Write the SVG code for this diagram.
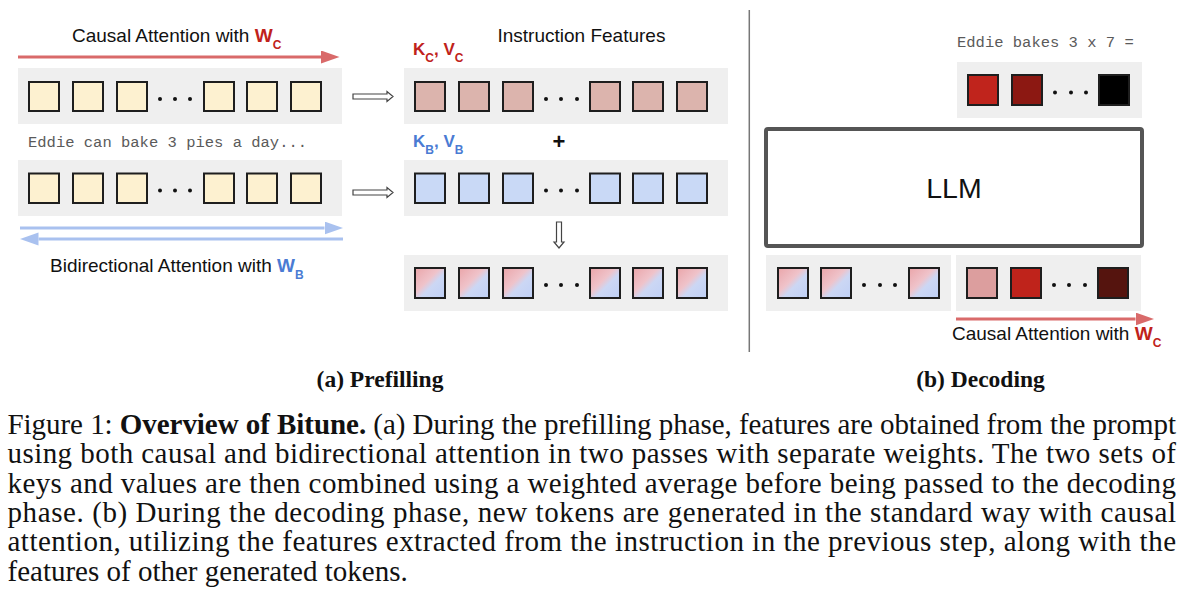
<svg xmlns="http://www.w3.org/2000/svg" width="1200" height="613" viewBox="0 0 1200 613">
<style>
.band{fill:#efefef}
.sq{stroke:#1e1e1e;stroke-width:2}
.cream{fill:#fdf1d0}
.kc{fill:#dcb4ad}
.kb{fill:#c9d9f6}
.mix{fill:url(#mixg)}
.dot{fill:#111}
.sans{font-family:"Liberation Sans",Arial,sans-serif;fill:#111}
.mono{font-family:"Liberation Mono","Courier New",monospace;fill:#5a5a5a;font-size:15.5px}
.serif{font-family:"Liberation Serif","Times New Roman",serif;fill:#111}
.red{fill:#c0221b;font-weight:bold}
.blue{fill:#4a7bd3;font-weight:bold}
.redline{stroke:#d96a6a;stroke-width:3;fill:none}
.blueline{stroke:#a9c1ef;stroke-width:3;fill:none}
.hollow{fill:#fff;stroke:#444;stroke-width:1.2}
</style>
<defs>
<linearGradient id="mixg" x1="0" y1="0" x2="1" y2="1">
<stop offset="0" stop-color="#eaa5a9"/>
<stop offset="0.42" stop-color="#efc3ca"/>
<stop offset="0.58" stop-color="#ccd7f4"/>
<stop offset="1" stop-color="#bfd0f6"/>
</linearGradient>
<marker id="redhead" markerUnits="userSpaceOnUse" markerWidth="19" markerHeight="14" refX="0" refY="6.5" orient="auto">
<path d="M0,0 L18.5,6.5 L0,13 Z" fill="#d96a6a"/>
</marker>
<marker id="bluehead" markerUnits="userSpaceOnUse" markerWidth="19" markerHeight="14" refX="0" refY="6.5" orient="auto">
<path d="M0,0 L18.5,6.5 L0,13 Z" fill="#a9c1ef"/>
</marker>
<path id="harrow" class="hollow" d="M0,-2.5 H34 V-5 L40,0 L34,5 V2.5 H0 Z"/>
<path id="darrow" class="hollow" d="M-2.5,0 V20 H-5 L0,26 L5,20 H2.5 V0 Z"/>
</defs>
<rect width="1200" height="613" fill="#fff"/>

<!-- Prefilling: input causal row -->
<g id="input-causal">
<rect class="band" x="18" y="68" width="324" height="56"/>
<rect class="sq cream" x="29" y="82" width="30" height="29"/>
<rect class="sq cream" x="73" y="82" width="30" height="29"/>
<rect class="sq cream" x="117" y="82" width="30" height="29"/>
<circle class="dot" cx="160" cy="99" r="2"/><circle class="dot" cx="175" cy="99" r="2"/><circle class="dot" cx="190" cy="99" r="2"/>
<rect class="sq cream" x="204" y="82" width="30" height="29"/>
<rect class="sq cream" x="247" y="82" width="30" height="29"/>
<rect class="sq cream" x="291" y="82" width="30" height="29"/>
</g>
<g id="input-bidir">
<rect class="band" x="18" y="160" width="324" height="56"/>
<rect class="sq cream" x="29" y="173.5" width="30" height="29.5"/>
<rect class="sq cream" x="73" y="173.5" width="30" height="29.5"/>
<rect class="sq cream" x="117" y="173.5" width="30" height="29.5"/>
<circle class="dot" cx="160" cy="190.5" r="2"/><circle class="dot" cx="175" cy="190.5" r="2"/><circle class="dot" cx="190" cy="190.5" r="2"/>
<rect class="sq cream" x="204" y="173.5" width="30" height="29.5"/>
<rect class="sq cream" x="247" y="173.5" width="30" height="29.5"/>
<rect class="sq cream" x="291" y="173.5" width="30" height="29.5"/>
</g>
<g id="prefill-labels">
<text class="sans" x="72" y="42" font-size="19">Causal Attention with <tspan class="red">W</tspan><tspan class="red" font-size="12" dy="7">C</tspan></text>
<text class="mono" x="28" y="147">Eddie can bake 3 pies a day...</text>
<text class="sans" x="50" y="272" font-size="19">Bidirectional Attention with <tspan class="blue">W</tspan><tspan class="blue" font-size="12" dy="6.5">B</tspan></text>
</g>

<!-- Instruction features -->
<g id="kv-causal">
<rect class="band" x="404" y="68" width="324" height="56"/>
<rect class="sq kc" x="415" y="82" width="30" height="29"/>
<rect class="sq kc" x="459" y="82" width="30" height="29"/>
<rect class="sq kc" x="503" y="82" width="30" height="29"/>
<circle class="dot" cx="546" cy="99" r="2"/><circle class="dot" cx="561" cy="99" r="2"/><circle class="dot" cx="577" cy="99" r="2"/>
<rect class="sq kc" x="590" y="82" width="30" height="29"/>
<rect class="sq kc" x="633" y="82" width="30" height="29"/>
<rect class="sq kc" x="677" y="82" width="30" height="29"/>
</g>
<g id="kv-bidir">
<rect class="band" x="404" y="160" width="324" height="56"/>
<rect class="sq kb" x="415" y="173.5" width="30" height="29.5"/>
<rect class="sq kb" x="459" y="173.5" width="30" height="29.5"/>
<rect class="sq kb" x="503" y="173.5" width="30" height="29.5"/>
<circle class="dot" cx="546" cy="190.5" r="2"/><circle class="dot" cx="561" cy="190.5" r="2"/><circle class="dot" cx="577" cy="190.5" r="2"/>
<rect class="sq kb" x="590" y="173.5" width="30" height="29.5"/>
<rect class="sq kb" x="633" y="173.5" width="30" height="29.5"/>
<rect class="sq kb" x="677" y="173.5" width="30" height="29.5"/>
</g>
<g id="kv-combined">
<rect class="band" x="404" y="255" width="324" height="56"/>
<rect class="sq mix" x="415" y="268" width="30" height="30"/>
<rect class="sq mix" x="459" y="268" width="30" height="30"/>
<rect class="sq mix" x="503" y="268" width="30" height="30"/>
<circle class="dot" cx="546" cy="285" r="2"/><circle class="dot" cx="561" cy="285" r="2"/><circle class="dot" cx="577" cy="285" r="2"/>
<rect class="sq mix" x="590" y="268" width="30" height="30"/>
<rect class="sq mix" x="633" y="268" width="30" height="30"/>
<rect class="sq mix" x="677" y="268" width="30" height="30"/>
</g>
<g id="feature-labels">
<text class="sans" x="497.5" y="42" font-size="19">Instruction Features</text>
<text class="sans red" x="413" y="55" font-size="17">K<tspan font-size="12" dy="7">C</tspan><tspan dy="-7">, V</tspan><tspan font-size="12" dy="7">C</tspan></text>
<text class="sans blue" x="413" y="147" font-size="17">K<tspan font-size="12" dy="7">B</tspan><tspan dy="-7">, V</tspan><tspan font-size="12" dy="7">B</tspan></text>
<text class="sans" x="559" y="149" font-size="22" font-weight="bold" text-anchor="middle">+</text>
</g>

<!-- Divider -->
<line x1="749.3" y1="10" x2="749.3" y2="352" stroke="#777" stroke-width="1.5"/>

<!-- Decoding -->
<g id="dec-output">
<text class="mono" x="957" y="47">Eddie bakes 3 x 7 =</text>
<rect class="band" x="957" y="62" width="185" height="56"/>
<rect class="sq" x="968" y="75" width="30" height="30" fill="#c0241c"/>
<rect class="sq" x="1012" y="75" width="30" height="30" fill="#8c1812"/>
<circle class="dot" cx="1055" cy="92.5" r="2"/><circle class="dot" cx="1071" cy="92.5" r="2"/><circle class="dot" cx="1086" cy="92.5" r="2"/>
<rect class="sq" x="1099" y="75" width="30" height="30" fill="#000"/>
</g>
<g id="llm">
<rect x="766" y="129" width="376" height="117" rx="2" fill="#fff" stroke="#555" stroke-width="4"/>
<text class="sans" x="954" y="198" font-size="28.5" text-anchor="middle">LLM</text>
</g>
<g id="dec-instruction">
<rect class="band" x="766" y="255" width="185" height="56"/>
<rect class="sq mix" x="778" y="268" width="30" height="30"/>
<rect class="sq mix" x="821" y="268" width="30" height="30"/>
<circle class="dot" cx="864" cy="285" r="2"/><circle class="dot" cx="880" cy="285" r="2"/><circle class="dot" cx="895" cy="285" r="2"/>
<rect class="sq mix" x="909" y="268" width="30" height="30"/>
</g>
<g id="dec-generated">
<rect class="band" x="956" y="255" width="185" height="56"/>
<rect class="sq" x="967" y="268" width="30" height="30" fill="#dc9e9e"/>
<rect class="sq" x="1011" y="268" width="30" height="30" fill="#bf231b"/>
<circle class="dot" cx="1054" cy="285" r="2"/><circle class="dot" cx="1069" cy="285" r="2"/><circle class="dot" cx="1085" cy="285" r="2"/>
<rect class="sq" x="1098" y="268" width="30" height="30" fill="#55140e"/>
</g>
<g id="dec-labels">
<text class="sans" x="952" y="340" font-size="19">Causal Attention with <tspan class="red">W</tspan><tspan class="red" font-size="12" dy="7">C</tspan></text>
</g>

<!-- Connectors -->
<g id="connectors">
<line class="redline" x1="18" y1="57" x2="321" y2="57" marker-end="url(#redhead)"/>
<line class="blueline" x1="20" y1="228" x2="324.5" y2="228" marker-end="url(#bluehead)"/>
<line class="blueline" x1="343" y1="239" x2="38.5" y2="239" marker-end="url(#bluehead)"/>
<line class="redline" x1="956" y1="319" x2="1135.5" y2="319" marker-end="url(#redhead)"/>
<use href="#harrow" x="353" y="96.5"/>
<use href="#harrow" x="353" y="192.5"/>
<use href="#darrow" x="559" y="222"/>
</g>

<!-- Captions -->
<g id="captions">
<text class="serif" x="380" y="387" font-size="23.5" font-weight="bold" text-anchor="middle">(a) Prefilling</text>
<text class="serif" x="980.5" y="387" font-size="23.5" font-weight="bold" text-anchor="middle">(b) Decoding</text>
<g font-size="29">
<text class="serif" x="7.5" y="434" textLength="1168.5" lengthAdjust="spacing">Figure 1: <tspan font-weight="bold">Overview of Bitune.</tspan> (a) During the prefilling phase, features are obtained from the prompt</text>
<text class="serif" x="7.5" y="463.3" textLength="1168.5" lengthAdjust="spacing">using both causal and bidirectional attention in two passes with separate weights. The two sets of</text>
<text class="serif" x="7.5" y="492.6" textLength="1168.5" lengthAdjust="spacing">keys and values are then combined using a weighted average before being passed to the decoding</text>
<text class="serif" x="7.5" y="521.9" textLength="1168.5" lengthAdjust="spacing">phase. (b) During the decoding phase, new tokens are generated in the standard way with causal</text>
<text class="serif" x="7.5" y="551.2" textLength="1168.5" lengthAdjust="spacing">attention, utilizing the features extracted from the instruction in the previous step, along with the</text>
<text class="serif" x="7.5" y="580.5">features of other generated tokens.</text>
</g>
</g>
</svg>
